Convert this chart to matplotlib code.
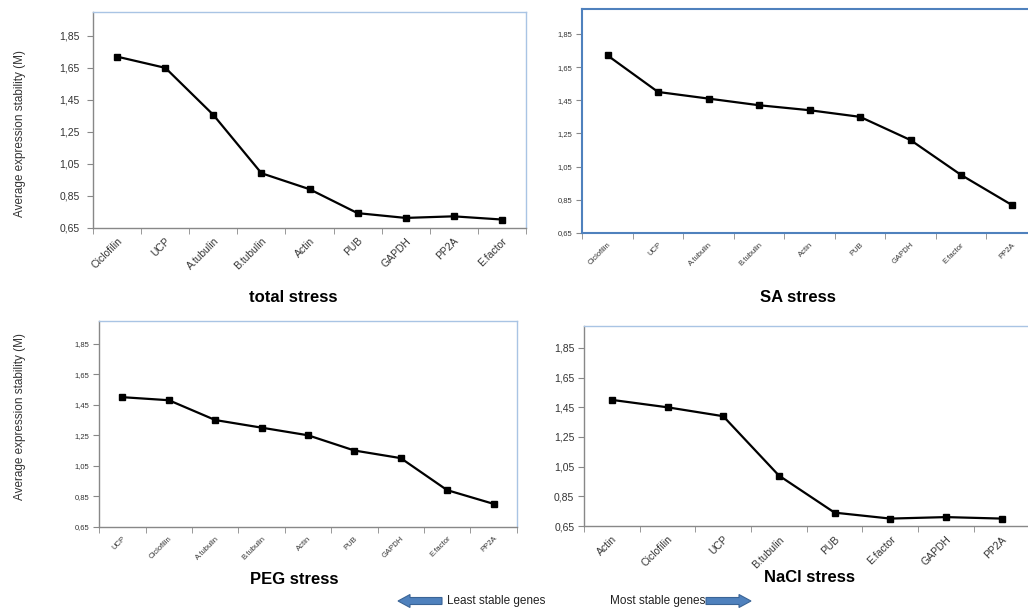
import numpy as np
import matplotlib
matplotlib.use("Agg")
import matplotlib.pyplot as plt
from matplotlib.patches import Polygon

W, H = 1028, 609

# values
total_genes = ["Ciclofilin", "UCP", "A.tubulin", "B.tubulin", "Actin", "PUB", "GAPDH", "PP2A", "E.factor"]
total_m = [1.72, 1.65, 1.355, 0.99, 0.89, 0.74, 0.71, 0.72, 0.70]

sa_genes = ["Ciclofilin", "UCP", "A.tubulin", "B.tubulin", "Actin", "PUB", "GAPDH", "E.factor", "PP2A"]
sa_m = [1.72, 1.50, 1.46, 1.42, 1.39, 1.35, 1.21, 1.00, 0.82]

peg_genes = ["UCP", "Ciclofilin", "A.tubulin", "B.tubulin", "Actin", "PUB", "GAPDH", "E.factor", "PP2A"]
peg_m = [1.50, 1.48, 1.35, 1.30, 1.25, 1.15, 1.10, 0.89, 0.80]

nacl_genes = ["Actin", "Ciclofilin", "UCP", "B.tubulin", "PUB", "E.factor", "GAPDH", "PP2A"]
nacl_m = [1.50, 1.45, 1.39, 0.99, 0.74, 0.70, 0.71, 0.70]

yticks = [0.65, 0.85, 1.05, 1.25, 1.45, 1.65, 1.85]
ylabel = "Average expression stability (M)"

plt.rcParams['font.family'] = ['Liberation Sans', 'DejaVu Sans']

fig = plt.figure(figsize=(W / 100, H / 100), dpi=100)


def px_axes(l, t, r, b):
    return fig.add_axes([l / W, 1 - b / H, (r - l) / W, (b - t) / H])


def panel(box, genes, vals, title, title_xy, fs, ms, frame, ylab_cy=None, ypad=3):
    ax = px_axes(*box)
    x = np.arange(len(genes))
    ax.plot(x, vals, color="black", lw=1.6, marker="s", ms=ms, zorder=3)
    ax.set_xlim(-0.5, len(genes) - 0.5)
    ax.set_ylim(0.65, 2.0)
    ax.set_yticks(yticks)
    ax.set_yticklabels([("%.2f" % v).replace(".", ",") for v in yticks], fontsize=fs, color="#333333")
    ax.set_xticks(x)
    ax.set_xticklabels(genes, rotation=45, ha="right", rotation_mode="anchor", fontsize=fs, color="#333333")
    ax.tick_params(axis="x", which="major", length=0, pad=6)
    ax.set_xticks(np.arange(len(genes) + 1) - 0.5, minor=True)
    ax.tick_params(axis="x", which="minor", length=4, color="#888888", direction="out")
    ax.tick_params(axis="y", length=4, color="#888888", direction="out", pad=ypad)
    if frame == "blue":
        for s in ax.spines.values():
            s.set_color("#4F81BD")
            s.set_linewidth(1.5)
    else:
        ax.spines["top"].set_color("#A9C4E4")
        ax.spines["right"].set_color("#A9C4E4")
        ax.spines["left"].set_color("#888888")
        ax.spines["bottom"].set_color("#888888")
        for s in ax.spines.values():
            s.set_linewidth(1.0)
    fig.text(title_xy[0] / W, 1 - title_xy[1] / H, title, fontsize=12, fontweight="bold",
             ha="center", va="center")
    if ylab_cy is not None:
        fig.text(20 / W, 1 - ylab_cy / H, ylabel, rotation=90, fontsize=8.5,
                 color="#333333", ha="center", va="center")
    return ax


panel((93.3, 12, 525.7, 227.5), total_genes, total_m, "total stress", (293, 297), 7.5, 5, "light", 133, 6)
panel((582.3, 9, 1036.8, 233), sa_genes, sa_m, "SA stress", (798, 297), 5.5, 4, "blue")
panel((99.3, 321, 516.7, 526.7), peg_genes, peg_m, "PEG stress", (294, 580), 5.5, 4, "light", 417)
panel((584, 325.7, 1029.5, 526), nacl_genes, nacl_m, "NaCl stress", (809, 578), 7.5, 4, "light")


def arrow(x0, x1, yc, pointing):
    # block arrow drawn in pixel units of the figure
    head = 12
    bh, hh = 3.5, 6.5
    if pointing == "left":
        pts = [(x0, yc), (x0 + head, yc - hh), (x0 + head, yc - bh), (x1, yc - bh),
               (x1, yc + bh), (x0 + head, yc + bh), (x0 + head, yc + hh)]
    else:
        pts = [(x1, yc), (x1 - head, yc - hh), (x1 - head, yc - bh), (x0, yc - bh),
               (x0, yc + bh), (x1 - head, yc + bh), (x1 - head, yc + hh)]
    pts = [(p[0] / W, 1 - p[1] / H) for p in pts]
    fig.add_artist(Polygon(pts, closed=True, transform=fig.transFigure,
                           facecolor="#4F81BD", edgecolor="#3A6496", lw=0.8))


arrow(398, 442, 601, "left")
arrow(706, 751, 601, "right")
fig.text(447 / W, 1 - 601 / H, "Least stable genes", fontsize=8.5, ha="left", va="center", color="#222222")
fig.text(705 / W, 1 - 601 / H, "Most stable genes", fontsize=8.5, ha="right", va="center", color="#222222")

fig.savefig("out.png", dpi=100)
